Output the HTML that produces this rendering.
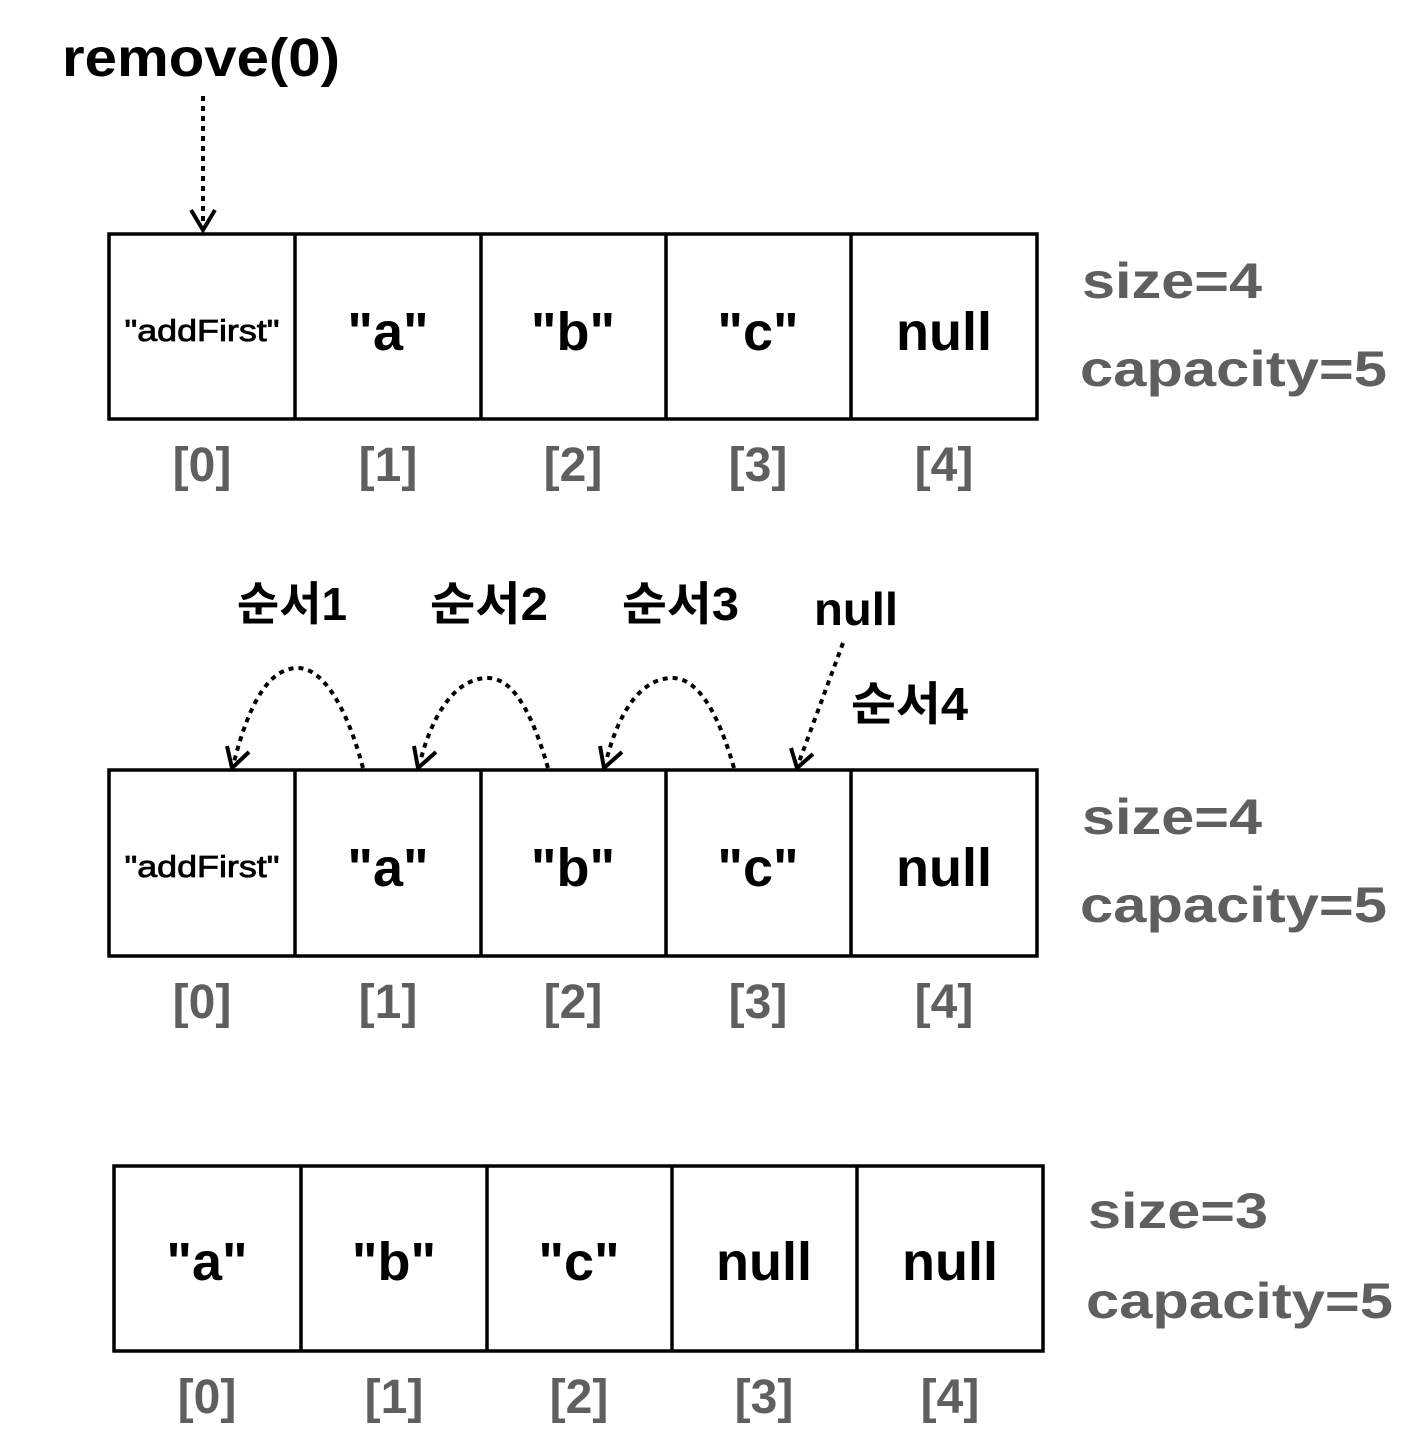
<!DOCTYPE html>
<html><head><meta charset="utf-8"><style>html,body{margin:0;padding:0;background:#fff}svg{display:block}</style></head>
<body>
<svg width="1422" height="1452" viewBox="0 0 1422 1452" xmlns="http://www.w3.org/2000/svg">
<g font-family="Liberation Sans, Noto Sans CJK KR, sans-serif">
<text x="62" y="76" font-size="54" font-weight="bold" fill="#000" textLength="278" lengthAdjust="spacingAndGlyphs">remove(0)</text>
<line x1="203" y1="96" x2="203" y2="226" stroke="#000" stroke-width="4" stroke-dasharray="5,5"/>
<polyline points="191,210 203,230 215,210" fill="none" stroke="#000" stroke-width="4"/>

<!-- Row 1 -->
<g fill="none" stroke="#000" stroke-width="3.5">
<rect x="109" y="234" width="928" height="185"/>
<line x1="295" y1="234" x2="295" y2="419"/><line x1="481" y1="234" x2="481" y2="419"/>
<line x1="666" y1="234" x2="666" y2="419"/><line x1="851" y1="234" x2="851" y2="419"/>
</g>
<g text-anchor="middle" fill="#000">
<text x="202" y="341" font-size="31" stroke="#000" stroke-width="0.8" textLength="155" lengthAdjust="spacingAndGlyphs">"addFirst"</text>
<text x="388" y="350" font-size="54" font-weight="bold">"a"</text>
<text x="573" y="350" font-size="54" font-weight="bold">"b"</text>
<text x="758" y="350" font-size="54" font-weight="bold">"c"</text>
<text x="944" y="350" font-size="54" font-weight="bold">null</text>
</g>
<g text-anchor="middle" fill="#5f5f5f" font-weight="bold" font-size="48">
<text x="202" y="481">[0]</text><text x="388" y="481">[1]</text><text x="573" y="481">[2]</text><text x="758" y="481">[3]</text><text x="944" y="481">[4]</text>
</g>
<g fill="#5f5f5f" font-weight="bold" font-size="50">
<text x="1082" y="298" textLength="180" lengthAdjust="spacingAndGlyphs">size=4</text>
<text x="1080" y="386" textLength="307" lengthAdjust="spacingAndGlyphs">capacity=5</text>
</g>

<!-- Row 2 labels/arrows -->
<g fill="#000" font-size="46" font-weight="bold">
<text x="237" y="620" textLength="110" lengthAdjust="spacingAndGlyphs">순서1</text>
<text x="430" y="620" textLength="118" lengthAdjust="spacingAndGlyphs">순서2</text>
<text x="622" y="620" textLength="117" lengthAdjust="spacingAndGlyphs">순서3</text>
<text x="814" y="625" textLength="84" lengthAdjust="spacingAndGlyphs">null</text>
<text x="851" y="720" textLength="117" lengthAdjust="spacingAndGlyphs">순서4</text>
</g>
<g fill="none" stroke="#000" stroke-width="4" stroke-dasharray="5,5">
<path d="M363,768 C345,700 320,668 298,668 C270,668 250,700 234,762"/>
<path d="M548,768 C530,705 510,678 488,678 C460,678 435,705 420,762"/>
<path d="M734,768 C716,705 695,678 672,678 C645,678 620,705 606,762"/>
<path d="M843,643 L799,762"/>
</g>
<g fill="none" stroke="#000" stroke-width="4">
<polyline points="227,746 232,768 249,752"/>
<polyline points="414,746 418,768 436,752"/>
<polyline points="600,746 604,768 622,752"/>
<polyline points="791,748 797,768 813,754"/>
</g>

<!-- Row 2 -->
<g fill="none" stroke="#000" stroke-width="3.5">
<rect x="109" y="770" width="928" height="186"/>
<line x1="295" y1="770" x2="295" y2="956"/><line x1="481" y1="770" x2="481" y2="956"/>
<line x1="666" y1="770" x2="666" y2="956"/><line x1="851" y1="770" x2="851" y2="956"/>
</g>
<g text-anchor="middle" fill="#000">
<text x="202" y="877" font-size="31" stroke="#000" stroke-width="0.8" textLength="155" lengthAdjust="spacingAndGlyphs">"addFirst"</text>
<text x="388" y="886" font-size="54" font-weight="bold">"a"</text>
<text x="573" y="886" font-size="54" font-weight="bold">"b"</text>
<text x="758" y="886" font-size="54" font-weight="bold">"c"</text>
<text x="944" y="886" font-size="54" font-weight="bold">null</text>
</g>
<g text-anchor="middle" fill="#5f5f5f" font-weight="bold" font-size="48">
<text x="202" y="1018">[0]</text><text x="388" y="1018">[1]</text><text x="573" y="1018">[2]</text><text x="758" y="1018">[3]</text><text x="944" y="1018">[4]</text>
</g>
<g fill="#5f5f5f" font-weight="bold" font-size="50">
<text x="1082" y="834" textLength="180" lengthAdjust="spacingAndGlyphs">size=4</text>
<text x="1080" y="922" textLength="307" lengthAdjust="spacingAndGlyphs">capacity=5</text>
</g>

<!-- Row 3 -->
<g fill="none" stroke="#000" stroke-width="3.5">
<rect x="114" y="1166" width="929" height="185"/>
<line x1="301" y1="1166" x2="301" y2="1351"/><line x1="487" y1="1166" x2="487" y2="1351"/>
<line x1="672" y1="1166" x2="672" y2="1351"/><line x1="857" y1="1166" x2="857" y2="1351"/>
</g>
<g text-anchor="middle" fill="#000" font-weight="bold">
<text x="207" y="1280" font-size="54">"a"</text>
<text x="394" y="1280" font-size="54">"b"</text>
<text x="579" y="1280" font-size="54">"c"</text>
<text x="764" y="1280" font-size="54">null</text>
<text x="950" y="1280" font-size="54">null</text>
</g>
<g text-anchor="middle" fill="#5f5f5f" font-weight="bold" font-size="48">
<text x="207" y="1413">[0]</text><text x="394" y="1413">[1]</text><text x="579" y="1413">[2]</text><text x="764" y="1413">[3]</text><text x="950" y="1413">[4]</text>
</g>
<g fill="#5f5f5f" font-weight="bold" font-size="50">
<text x="1088" y="1228" textLength="180" lengthAdjust="spacingAndGlyphs">size=3</text>
<text x="1086" y="1318" textLength="307" lengthAdjust="spacingAndGlyphs">capacity=5</text>
</g>
</g>
</svg>
</body></html>
